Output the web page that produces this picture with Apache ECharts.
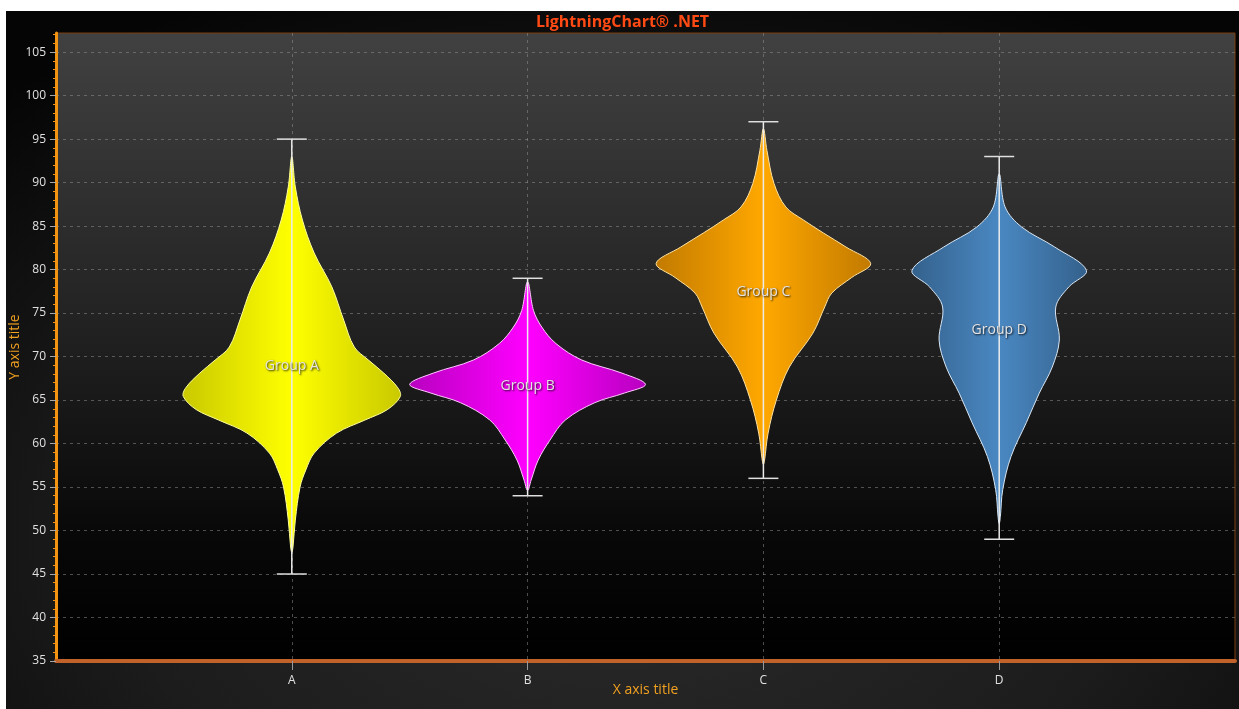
<!DOCTYPE html>
<html>
<head>
<meta charset="utf-8">
<script src="https://cdn.jsdelivr.net/npm/echarts@6/dist/echarts.min.js"></script>
<style>
  html, body { margin: 0; padding: 0; background: #ffffff; width: 1239px; height: 709px; overflow: hidden; }
  #chart {
    position: absolute; left: 6px; top: 11px; width: 1233px; height: 698px;
    background: radial-gradient(ellipse 75% 85% at 50% 75%, #2c2c2c 0%, #1c1c1c 55%, #050505 100%);
  }
</style>
</head>
<body>
<div id="chart"></div>
<script>
// ---- data ----
const categories = ['A', 'B', 'C', 'D'];
const groupNames = ['Group A', 'Group B', 'Group C', 'Group D'];
const groupMin = [45, 54, 56, 49];
const groupMax = [95, 79, 97, 93];
const groupLabelAt = [68.9, 66.6, 77.4, 73.0];
const yTicks = [35, 40, 45, 50, 55, 60, 65, 70, 75, 80, 85, 90, 95, 100, 105];

// density profiles: [y value, relative density]
const densityA = [
  [93.0, 0], [89.5, 0.03], [85.7, 0.09], [81.9, 0.19], [78.0, 0.34], [74.2, 0.44],
  [71.1, 0.53], [69.6, 0.65], [68.1, 0.78], [66.4, 0.90], [65.4, 0.92], [63.9, 0.81],
  [62.7, 0.62], [61.2, 0.38], [58.9, 0.19], [57.0, 0.12], [55.0, 0.07], [51.2, 0.03],
  [48.1, 0.01], [47.5, 0]
];
const densityB = [
  [78.6, 0], [75.3, 0.05], [73.4, 0.12], [71.5, 0.24], [69.6, 0.46], [68.1, 0.80],
  [66.8, 1.00], [65.8, 0.82], [64.7, 0.57], [62.7, 0.32], [60.4, 0.19], [58.1, 0.09],
  [55.8, 0.03], [54.6, 0]
];
const densityC = [
  [96.2, 0], [93.7, 0.03], [89.9, 0.09], [87.2, 0.19], [85.7, 0.34], [84.2, 0.51],
  [82.6, 0.70], [80.7, 0.91], [79.1, 0.75], [77.3, 0.58], [75.7, 0.52], [72.7, 0.42],
  [68.8, 0.22], [65.0, 0.11], [61.2, 0.04], [58.1, 0.01], [57.6, 0]
];
const densityD = [
  [91.0, 0], [87.2, 0.05], [84.9, 0.19], [82.6, 0.47], [79.9, 0.74], [78.0, 0.59],
  [75.7, 0.48], [71.9, 0.51], [68.8, 0.45], [65.8, 0.34], [62.4, 0.23], [58.5, 0.10],
  [54.7, 0.03], [51.6, 0.01], [50.8, 0]
];
const densities = [densityA, densityB, densityC, densityD];

// ---- styles ----
const fills = [
  ['#c9c900', '#ffff00', '#c9c900'],
  ['#b800c0', '#ff00ff', '#b800c0'],
  ['#c27a00', '#ffa800', '#c27a00'],
  ['#34618c', '#4a88c2', '#34618c']
];
const outlines = ['#ffff99', '#ffc8ff', '#ffe2a0', '#d8e6f4'];
const halfWidthUnits = 0.5;

const chart = echarts.init(document.getElementById('chart'), null, { renderer: 'canvas' });

function renderViolin(params, api) {
  const i = params.dataIndex;
  const xc = api.value(0);
  const dens = densities[i];
  const right = dens.map(p => api.coord([xc + p[1] * halfWidthUnits, p[0]]));
  const left = dens.slice().reverse().map(p => api.coord([xc - p[1] * halfWidthUnits, p[0]]));
  const pts = right.concat(left.slice(1, left.length - 1));
  const top = api.coord([xc, groupMax[i]]);
  const bot = api.coord([xc, groupMin[i]]);
  const lab = api.coord([xc, groupLabelAt[i]]);
  const f = fills[i];
  return {
    type: 'group',
    children: [
      {
        type: 'polygon',
        shape: { points: pts, smooth: 0.35 },
        style: {
          fill: new echarts.graphic.LinearGradient(0, 0, 1, 0, [
            { offset: 0, color: f[0] }, { offset: 0.5, color: f[1] }, { offset: 1, color: f[2] }
          ]),
          stroke: outlines[i], lineWidth: 1
        }
      },
      {
        type: 'line',
        shape: { x1: top[0], y1: top[1], x2: bot[0], y2: bot[1] },
        style: { stroke: '#ececec', lineWidth: 1.5 }
      },
      {
        type: 'line',
        shape: { x1: top[0] - 15, y1: top[1], x2: top[0] + 15, y2: top[1] },
        style: { stroke: '#e0e0e0', lineWidth: 1.5 }
      },
      {
        type: 'line',
        shape: { x1: bot[0] - 15, y1: bot[1], x2: bot[0] + 15, y2: bot[1] },
        style: { stroke: '#e0e0e0', lineWidth: 1.5 }
      },
      {
        type: 'text',
        style: {
          text: groupNames[i], x: lab[0], y: lab[1],
          textAlign: 'center', textVerticalAlign: 'middle',
          fill: '#e4e4e4', font: '14px "Open Sans", "Noto Sans", sans-serif',
          textShadowColor: 'rgba(0,0,0,0.85)', textShadowBlur: 2,
          textShadowOffsetX: 1, textShadowOffsetY: 1
        }
      }
    ]
  };
}

const option = {
  animation: false,
  title: {
    text: 'LightningChart® .NET',
    left: 'center', top: -2,
    textStyle: { color: '#ff4a14', fontSize: 16, fontWeight: 'bold', fontFamily: '"Open Sans", "Noto Sans", sans-serif' }
  },
  grid: {
    left: 50, right: 4, top: 22, bottom: 48,
    outerBoundsMode: 'none',
    containLabel: false,
    show: true,
    borderColor: '#7a3c0c', borderWidth: 1,
    backgroundColor: new echarts.graphic.LinearGradient(0, 0, 0, 1, [
      { offset: 0, color: '#414141' }, { offset: 0.45, color: '#232323' },
      { offset: 0.8, color: '#080808' }, { offset: 1, color: '#000000' }
    ])
  },
  xAxis: {
    type: 'value', min: 0, max: categories.length + 1, interval: 1,
    name: 'X axis title', nameLocation: 'middle', nameGap: 22, nameMoveOverlap: false,
    nameTextStyle: { color: '#f0a020', fontSize: 14, fontFamily: '"Open Sans", "Noto Sans", sans-serif' },
    axisLine: { show: true, onZero: false, lineStyle: { color: '#c0622a', width: 4 } },
    axisTick: { show: true, length: 9, customValues: categories.map((c, k) => k + 1), lineStyle: { color: '#9a9a9a' } },
    axisLabel: {
      color: '#e0e0e0', fontSize: 12, margin: 14,
      customValues: categories.map((c, k) => k + 1),
      formatter: v => categories[Math.round(v) - 1] || '',
      fontFamily: '"Open Sans", "Noto Sans", sans-serif'
    },
    splitLine: { show: true, lineStyle: { color: 'rgba(150,150,150,0.5)', type: [3, 4], width: 1 } }
  },
  yAxis: {
    type: 'value', min: 35, max: 107.2, interval: 5,
    name: 'Y axis title', nameLocation: 'middle', nameGap: 34, nameMoveOverlap: false,
    nameTextStyle: { color: '#f0a020', fontSize: 14, fontFamily: '"Open Sans", "Noto Sans", sans-serif' },
    axisLine: { show: true, lineStyle: { color: '#f29412', width: 3 } },
    axisTick: { show: true, length: 6, customValues: yTicks, lineStyle: { color: '#a8a8a8' } },
    minorTick: { show: true, splitNumber: 5, length: 3, lineStyle: { color: '#f29412' } },
    axisLabel: {
      color: '#e0e0e0', fontSize: 12, margin: 10, customValues: yTicks,
      fontFamily: '"Open Sans", "Noto Sans", sans-serif'
    },
    splitLine: { show: true, lineStyle: { color: 'rgba(150,150,150,0.5)', type: [3, 4], width: 1 } }
  },
  series: [{
    type: 'custom',
    renderItem: renderViolin,
    data: categories.map((c, k) => [k + 1]),
    encode: { x: 0 },
    clip: false,
    z: 5
  }]
};
chart.setOption(option);
</script>
</body>
</html>
